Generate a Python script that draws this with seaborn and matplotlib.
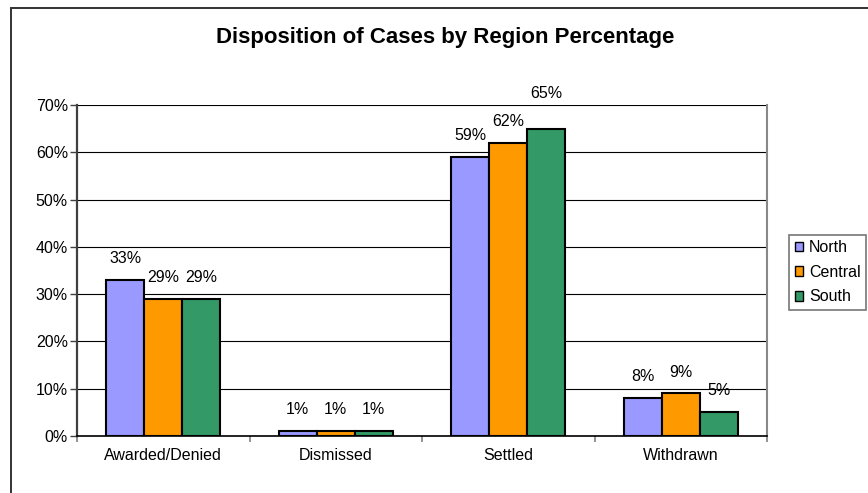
import matplotlib
matplotlib.use("Agg")
import matplotlib.pyplot as plt
import seaborn as sns
import pandas as pd
from matplotlib.patches import Rectangle
from matplotlib.ticker import FuncFormatter, FixedLocator

categories = ["Awarded/Denied", "Dismissed", "Settled", "Withdrawn"]
regions = ["North", "Central", "South"]
north = [33, 1, 59, 8]
central = [29, 1, 62, 9]
south = [29, 1, 65, 5]
colors = ["#9999FF", "#FF9900", "#339966"]

rows = []
for reg, vals in zip(regions, [north, central, south]):
    for c, v in zip(categories, vals):
        rows.append({"Category": c, "Region": reg, "Value": v})
df = pd.DataFrame(rows)

sns.set_style("white")
plt.rcParams["font.family"] = ["Liberation Sans", "DejaVu Sans"]
plt.rcParams["text.color"] = "black"
plt.rcParams["xtick.color"] = "black"
plt.rcParams["ytick.color"] = "black"
plt.rcParams["axes.labelcolor"] = "black"

W, H = 868, 493
fig = plt.figure(figsize=(W / 100, H / 100), dpi=100)
ax = fig.add_axes([77 / W, (H - 436) / H, 690 / W, 331 / H])

sns.barplot(data=df, x="Category", y="Value", hue="Region", order=categories,
            hue_order=regions, palette=colors, width=0.66, edgecolor="black",
            linewidth=1.5, ax=ax, saturation=1, legend=True)

for cont in ax.containers:
    anns = ax.bar_label(cont, labels=[f"{int(round(v))}%" for v in cont.datavalues],
                        padding=10, fontsize=11.5)
    for a, v in zip(anns, cont.datavalues):
        if v >= 64:
            # label sits above the plot area in the reference
            a.xyann = (0, 20)

ax.set_ylim(0, 70)
ax.set_yticks(range(0, 71, 10))
ax.yaxis.set_major_formatter(FuncFormatter(lambda v, p: f"{int(v)}%"))
ax.grid(axis="y", color="black", linewidth=0.8)
ax.set_axisbelow(True)
ax.set_xlim(-0.5, 3.5)
ax.set_xlabel("")
ax.set_ylabel("")
ax.tick_params(axis="y", length=5, direction="out", left=True, labelsize=11.5,
               width=1, pad=1.5, color="#404040")
ax.tick_params(axis="x", which="major", length=0, labelsize=11.5, pad=9)
ax.xaxis.set_minor_locator(FixedLocator([-0.5, 0.5, 1.5, 2.5, 3.5]))
ax.tick_params(axis="x", which="minor", length=4, direction="out", bottom=True,
               width=1.2, color="#808080")
ax.spines["left"].set_color("#404040")
ax.spines["left"].set_linewidth(1.6)
ax.spines["bottom"].set_color("black")
ax.spines["bottom"].set_linewidth(1.2)
ax.spines["top"].set_visible(False)
ax.spines["right"].set_color("#888888")
ax.spines["right"].set_linewidth(1.5)

leg = ax.legend(loc="lower left", bbox_to_anchor=(789 / W, (H - 310) / H),
                bbox_transform=fig.transFigure, frameon=True,
                fontsize=11.5, handlelength=0.55, handleheight=0.55,
                handletextpad=0.35, borderpad=0.35, labelspacing=0.6,
                fancybox=False, borderaxespad=0.0)
leg.get_frame().set_edgecolor("#555555")
leg.get_frame().set_linewidth(1.2)
for h in leg.legend_handles:
    h.set_edgecolor("black")
    h.set_linewidth(1.0)

fig.text(445 / W, 1 - 37 / H, "Disposition of Cases by Region Percentage",
         ha="center", va="center", fontsize=16, fontweight="bold")

fig.patches.append(Rectangle((11 / W, -0.05), 1.2, 1.05 - 8 / H,
                             transform=fig.transFigure, fill=False,
                             edgecolor="#333333", linewidth=1.4))

fig.savefig("out.png", dpi=100)
